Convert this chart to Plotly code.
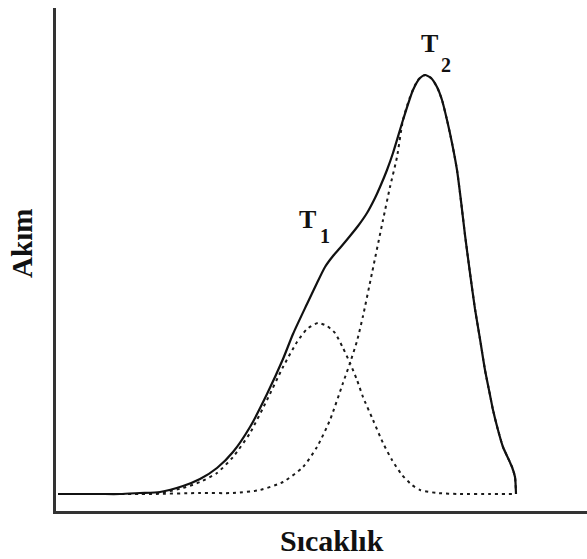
import plotly.graph_objects as go

# Temperature positions (arbitrary units) and current heights (arbitrary units)
total_x = [58, 80, 100, 120, 140, 160, 183, 200, 217, 233, 250, 267, 283, 293, 307, 317, 325, 333, 340, 350,
           358, 367, 375, 380, 387, 393, 403, 413, 420, 425, 431, 437, 442, 447, 452, 457, 461, 465, 470, 475, 480,
           485, 490, 493, 498, 503, 508, 512, 515, 516]
total_y = [17, 17, 17, 17, 18, 19, 25, 32, 43, 59, 84, 117, 152, 177, 207, 228, 244, 255, 263, 275,
           285, 298, 313, 324, 341, 358, 391, 421, 433, 436, 433, 424, 411, 391, 368, 341, 310, 276, 238, 202, 172,
           141, 116, 101, 81, 64, 53, 44, 34, 17]

peak1_x = [58, 100, 140, 160, 183, 200, 217, 233, 250, 267, 283, 297, 307, 318, 327, 335, 343, 350, 357, 363,
           373, 383, 392, 402, 412, 420, 437, 460, 490, 515]
peak1_y = [17, 17, 17, 18, 23, 29, 38, 54, 78, 111, 144, 169, 182, 188, 185, 178, 163, 148, 131, 114,
           91, 68, 51, 36, 26, 21, 18, 17, 17, 17]

peak2_x = [58, 150, 200, 233, 260, 283, 303, 317, 330, 343, 350, 357, 363, 372, 383, 390, 397, 403, 410, 418,
           425, 431, 437, 442, 447, 452, 457, 461, 465, 470, 475, 480, 485, 490, 493, 498, 503, 508, 512, 515, 516]
peak2_y = [17, 17, 18, 18, 21, 29, 44, 64, 91, 128, 148, 170, 195, 238, 291, 324, 354, 391, 414, 431,
           436, 433, 424, 411, 391, 368, 341, 310, 276, 238, 202, 172, 141, 116, 101, 81, 64, 53, 44, 34, 17]

x_title = "Sıcaklık"
y_title = "Akım"

fig = go.Figure()
for xs, ys in [(peak1_x, peak1_y), (peak2_x, peak2_y)]:
    fig.add_trace(go.Scatter(x=xs, y=ys, mode="lines",
                             line=dict(color="#1a1a1a", width=2, dash="3px,4px", shape="spline", smoothing=0.6),
                             showlegend=False, hoverinfo="skip"))
fig.add_trace(go.Scatter(x=total_x, y=total_y, mode="lines",
                         line=dict(color="#111111", width=2.2, shape="spline", smoothing=0.6),
                         showlegend=False, hoverinfo="skip"))

serif = "Liberation Serif"
ann = []
ann.append(dict(text="<b>" + y_title + "</b>", xref="paper", yref="paper", x=-0.064, y=0.531,
                xanchor="center", yanchor="middle",
                textangle=-90, showarrow=False, font=dict(family=serif, size=29, color="#111")))
ann.append(dict(text="<b>" + x_title + "</b>", xref="paper", yref="paper", x=0.52, y=-0.058,
                xanchor="center", yanchor="middle",
                showarrow=False, font=dict(family=serif, size=30, color="#111")))
ann.append(dict(text="<b>T</b>", xref="x", yref="y", x=307, y=292, showarrow=False,
                font=dict(family=serif, size=26, color="#111")))
ann.append(dict(text="<b>1</b>", xref="x", yref="y", x=325, y=275, showarrow=False,
                font=dict(family=serif, size=20, color="#111")))
ann.append(dict(text="<b>T</b>", xref="x", yref="y", x=429, y=468, showarrow=False,
                font=dict(family=serif, size=26, color="#111")))
ann.append(dict(text="<b>2</b>", xref="x", yref="y", x=446, y=446, showarrow=False,
                font=dict(family=serif, size=20, color="#111")))

fig.update_layout(
    width=587, height=559,
    margin=dict(l=56, r=0, t=8, b=48),
    paper_bgcolor="white", plot_bgcolor="white",
    xaxis=dict(range=[56, 587], showgrid=False, zeroline=False, showticklabels=False, ticks="",
               showline=True, linecolor="#333333", linewidth=2.5),
    yaxis=dict(range=[0, 503], showgrid=False, zeroline=False, showticklabels=False, ticks="",
               showline=True, linecolor="#333333", linewidth=2.5),
    annotations=ann,
)
fig.write_html("out.html", config={"displayModeBar": False},
               post_script="document.body.style.margin='0';document.body.style.padding='0';")
